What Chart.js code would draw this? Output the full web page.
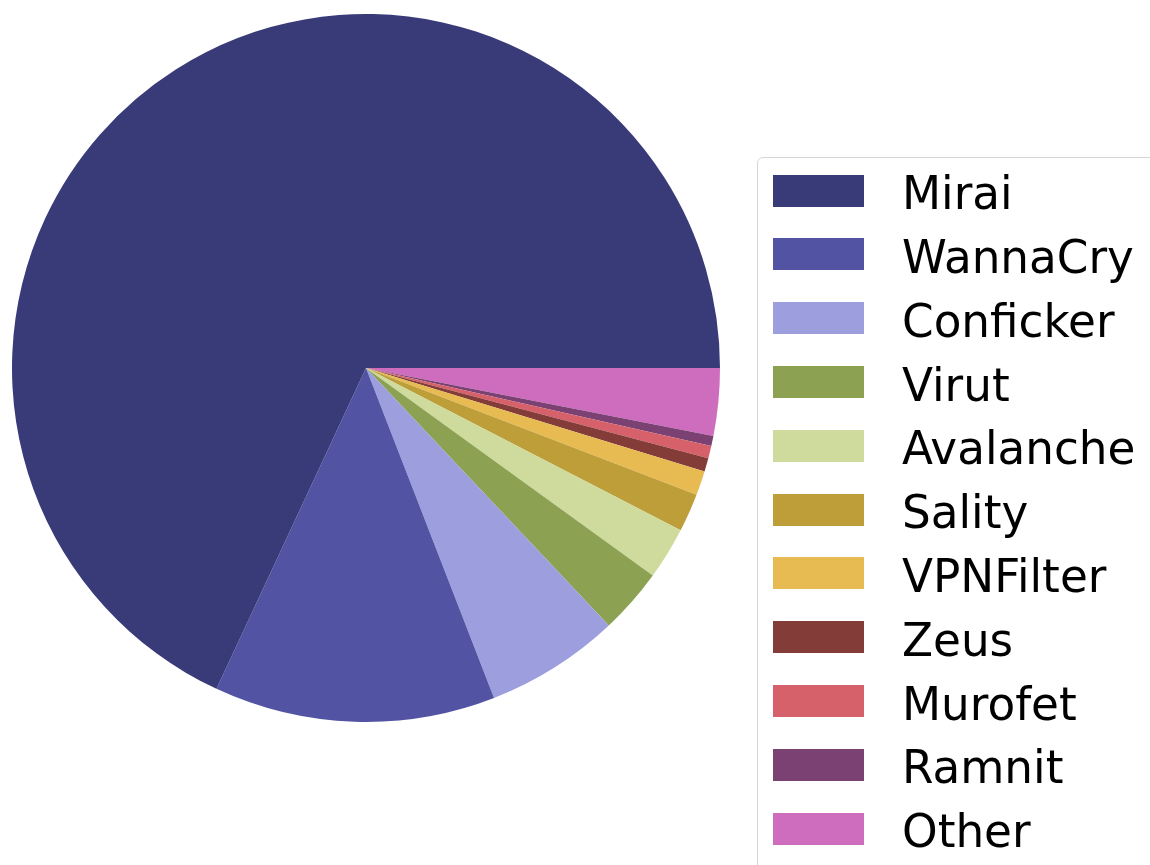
<!DOCTYPE html>
<html>
<head>
<meta charset="utf-8">
<script src="https://cdn.jsdelivr.net/npm/chart.js@4/dist/chart.umd.min.js"></script>
<style>
  html, body {
    margin: 0;
    padding: 0;
    width: 1150px;
    height: 865px;
    overflow: hidden;
    background: #fff;
  }
  #pieChart {
    position: absolute;
    left: 0;
    top: 0;
  }
  #legend {
    position: absolute;
    left: 757px;
    top: 157px;
    width: 520px;
    height: 800px;
    border: 1.5px solid #d6d6d6;
    border-radius: 6px;
    box-sizing: border-box;
    font-family: "DejaVu Sans", sans-serif;
    font-size: 45.3px;
    color: #000;
  }
  .legend-box {
    position: absolute;
    left: 15px;
    width: 91px;
    height: 32px;
  }
  .legend-text {
    position: absolute;
    left: 144px;
    line-height: 45.3px;
    white-space: nowrap;
  }
</style>
</head>
<body>
<canvas id="pieChart" width="1150" height="865"></canvas>
<div id="legend"></div>
<script>
// Share of samples per malware family (%), legend order
const families = ["Mirai", "WannaCry", "Conficker", "Virut", "Avalanche", "Sality",
  "VPNFilter", "Zeus", "Murofet", "Ramnit", "Other"];
const shares = [68.06, 12.83, 6.14, 3.0, 2.39, 1.75, 1.11, 0.62, 0.56, 0.46, 3.08];
const colors = ["#393b79", "#5254a3", "#9c9ede", "#8ca252", "#cedb9c", "#bd9e39",
  "#e7ba52", "#843c39", "#d6616b", "#7b4173", "#ce6dbd"];

// matplotlib draws counter-clockwise from 3 o'clock; Chart.js goes clockwise,
// so feed the slices in reverse order starting at 3 o'clock
const revLabels = families.slice().reverse();
const revShares = shares.slice().reverse();
const revColors = colors.slice().reverse();

const ctx = document.getElementById("pieChart").getContext("2d");
const chart = new Chart(ctx, {
  type: "pie",
  data: {
    labels: revLabels,
    datasets: [
      {
        data: revShares,
        backgroundColor: revColors,
        borderWidth: 0,
      },
    ],
  },
  options: {
    responsive: false,
    animation: false,
    rotation: 90,
    layout: {
      padding: { left: 12, top: 14, right: 430, bottom: 143 },
    },
    plugins: {
      legend: { display: false },
      tooltip: { enabled: false },
    },
  },
});

// Legend (clipped by the window edge like the original)
const legend = document.getElementById("legend");
const rowPitch = 63.8;
families.forEach((name, i) => {
  const box = document.createElement("div");
  box.className = "legend-box";
  box.style.top = (16.5 + i * rowPitch) + "px";
  box.style.background = colors[i];
  legend.appendChild(box);

  const text = document.createElement("div");
  text.className = "legend-text";
  text.style.top = (13.2 + i * rowPitch) + "px";
  text.textContent = name;
  legend.appendChild(text);
});
</script>
</body>
</html>
